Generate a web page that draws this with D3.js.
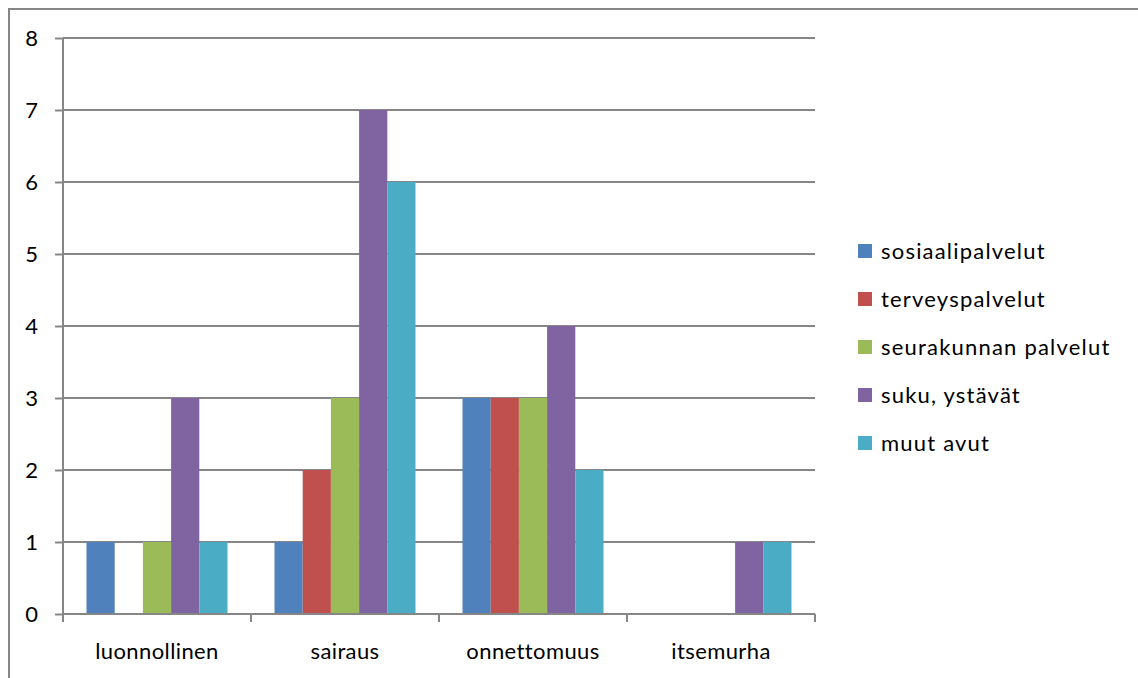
<!DOCTYPE html>
<html>
<head>
<meta charset="utf-8">
<script src="https://cdn.jsdelivr.net/npm/d3@7"></script>
<style>
  body { margin: 0; background: #fff; }
  svg { display: block; font-family: Lato, "Open Sans", sans-serif; }
</style>
</head>
<body>
<svg id="chart" width="1138" height="678"></svg>
<script>
const categories = ['luonnollinen', 'sairaus', 'onnettomuus', 'itsemurha'];
const seriesNames = ['sosiaalipalvelut', 'terveyspalvelut', 'seurakunnan palvelut', 'suku, ystävät', 'muut avut'];
const seriesColors = ['#4F81BD', '#C0504D', '#9BBB59', '#8064A2', '#4BACC6'];
// values per series, in category order
const sosiaalipalvelut = [1, 1, 3, 0];
const terveyspalvelut = [0, 2, 3, 0];
const seurakunta = [1, 3, 3, 0];
const suku = [3, 7, 4, 1];
const muut = [1, 6, 2, 1];
const yTicks = [0, 1, 2, 3, 4, 5, 6, 7, 8];

const seriesValues = [sosiaalipalvelut, terveyspalvelut, seurakunta, suku, muut];

const svg = d3.select('#chart');
const plotLeft = 63, plotRight = 815, plotTop = 38, plotBottom = 614;
const fontSize = 22;

// outer chart border (runs off the right and bottom edges)
svg.append('rect')
  .attr('x', 9).attr('y', 9)
  .attr('width', 1200).attr('height', 700)
  .attr('fill', 'none').attr('stroke', '#878787').attr('stroke-width', 2);

const x0 = d3.scaleBand().domain(categories).range([plotLeft, plotRight])
  .paddingInner(0.25).paddingOuter(0.125);
const x1 = d3.scaleBand().domain(d3.range(seriesNames.length)).range([0, x0.bandwidth()]);
const y = d3.scaleLinear().domain([0, 8]).range([plotBottom, plotTop]);

// gridlines
svg.append('g').selectAll('line')
  .data(yTicks.filter(d => d > 0))
  .join('line')
  .attr('x1', plotLeft).attr('x2', plotRight)
  .attr('y1', d => y(d)).attr('y2', d => y(d))
  .attr('stroke', '#868686').attr('stroke-width', 2);

// bars
const rows = [];
categories.forEach((c, ci) => {
  seriesValues.forEach((vals, si) => rows.push({ c, si, v: vals[ci] }));
});
svg.append('g').selectAll('rect')
  .data(rows.filter(d => d.v > 0))
  .join('rect')
  .attr('x', d => x0(d.c) + x1(d.si))
  .attr('width', x1.bandwidth())
  .attr('y', d => y(d.v))
  .attr('height', d => y(0) - y(d.v))
  .attr('fill', d => seriesColors[d.si]);

// y axis
const yAxis = svg.append('g')
  .attr('transform', `translate(${plotLeft},0)`)
  .call(d3.axisLeft(y).tickValues(yTicks).tickSize(8).tickPadding(17).tickFormat(d3.format('d')));
yAxis.attr('font-size', fontSize).attr('font-family', 'Lato, "Open Sans", sans-serif');
yAxis.select('.domain').attr('stroke', '#868686').attr('stroke-width', 2).attr('d', `M0,${plotTop}V${plotBottom}`);
yAxis.selectAll('.tick line').attr('stroke', '#868686').attr('stroke-width', 2);
yAxis.selectAll('.tick text').attr('fill', '#000');

// x axis
const xAxis = svg.append('g')
  .attr('transform', `translate(0,${plotBottom})`)
  .call(d3.axisBottom(x0).tickSize(0).tickPadding(29));
xAxis.attr('font-size', fontSize).attr('font-family', 'Lato, "Open Sans", sans-serif');
xAxis.select('.domain').attr('stroke', '#868686').attr('stroke-width', 2).attr('d', `M${plotLeft},0H${plotRight}`);
xAxis.selectAll('.tick text').attr('fill', '#000').attr('letter-spacing', 0.4);
// tick marks at category boundaries
const bounds = categories.map(c => x0(c) - x0.step() * x0.paddingInner() / 2).concat([plotRight]);
bounds[0] = plotLeft;
xAxis.append('g').selectAll('line')
  .data(bounds)
  .join('line')
  .attr('x1', d => d).attr('x2', d => d)
  .attr('y1', 0).attr('y2', 8)
  .attr('stroke', '#868686').attr('stroke-width', 2);

// legend
const legend = svg.append('g').attr('transform', 'translate(858,251)');
const item = legend.selectAll('g')
  .data(seriesNames)
  .join('g')
  .attr('transform', (d, i) => `translate(0,${i * 48})`);
item.append('rect')
  .attr('x', 0).attr('y', -7).attr('width', 14).attr('height', 14)
  .attr('fill', (d, i) => seriesColors[i]);
item.append('text')
  .attr('x', 23).attr('y', 0).attr('dy', '0.35em')
  .attr('font-size', fontSize).attr('fill', '#000').attr('letter-spacing', 1.2)
  .text(d => d);
</script>
</body>
</html>
